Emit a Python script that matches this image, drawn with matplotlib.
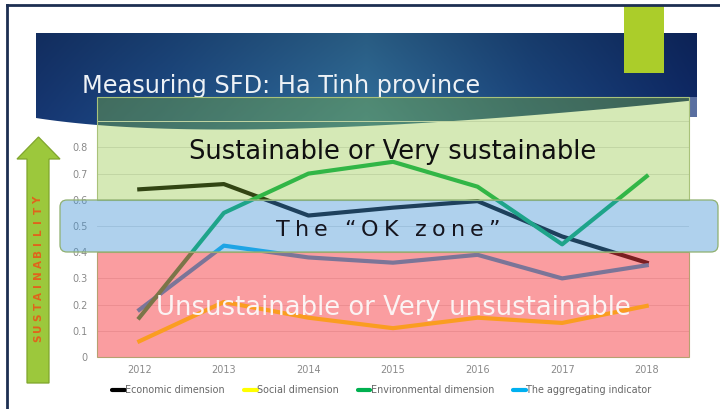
import numpy as np
import matplotlib

matplotlib.use("Agg")
import matplotlib.pyplot as plt
from matplotlib.patches import Polygon, Rectangle, FancyBboxPatch, PathPatch
from matplotlib.path import Path

# series shown on the slide
years = ["2012", "2013", "2014", "2015", "2016", "2017", "2018"]
economic = [0.64, 0.66, 0.54, 0.57, 0.595, 0.46, 0.36]
social = [0.06, 0.21, 0.15, 0.11, 0.15, 0.13, 0.195]
environmental = [0.15, 0.55, 0.70, 0.745, 0.65, 0.43, 0.69]
aggregating = [0.18, 0.425, 0.38, 0.36, 0.39, 0.30, 0.35]
series_names = ["Economic dimension", "Social dimension",
                "Environmental dimension", "The aggregating indicator"]
y_ticks = [0, 0.1, 0.2, 0.3, 0.4, 0.5, 0.6, 0.7, 0.8]

W, H = 720, 409
fig = plt.figure(figsize=(W / 100, H / 100), dpi=100)
fig.patch.set_facecolor("white")
renderer = fig.canvas.get_renderer()


def px_axes(z):
    a = fig.add_axes([0, 0, 1, 1], zorder=z)
    a.set_xlim(0, W)
    a.set_ylim(H, 0)
    a.axis("off")
    a.patch.set_alpha(0)
    return a


def fit_text(a, x, y, s, width, **kw):
    t = a.text(x, y, s, fontsize=20, **kw)
    w = t.get_window_extent(renderer).width
    t.set_fontsize(20 * width / w)
    return t


def tracked_text(a, x0, y, s, width, size, **kw):
    # letter-spaced string, one glyph at a time
    widths = []
    for ch in s:
        if ch == " ":
            widths.append(size * 1.389 * 0.3)
            continue
        t = a.text(0, 0, ch, fontsize=size, **kw)
        widths.append(t.get_window_extent(renderer).width)
        t.remove()
    gap = (width - sum(widths)) / (len(s) - 1)
    x = x0
    for ch, w in zip(s, widths):
        if ch != " ":
            a.text(x, y, ch, fontsize=size, ha="left", **kw)
        x += w + gap


# ---- background: title banner ----
bg = px_axes(0)
bx0, bx1, by0 = 36, 697, 33
t = np.linspace(0, 1, 80)
cx, cy = 230, 148
curve_x = (1 - t) ** 2 * bx0 + 2 * (1 - t) * t * cx + t ** 2 * bx1
curve_y = (1 - t) ** 2 * 118 + 2 * (1 - t) * t * cy + t ** 2 * 100
verts = [(bx0, by0), (bx1, by0)] + list(zip(curve_x[::-1], curve_y[::-1])) + [(bx0, by0)]
banner = PathPatch(Path(verts), facecolor="none", edgecolor="none")
bg.add_patch(banner)

gx = np.linspace(0, 1, 400)
stops = np.array([0, 0.2, 0.5, 0.75, 1.0])
cols = np.array([[22, 55, 115], [30, 76, 135], [50, 112, 158], [28, 72, 130], [15, 42, 105]]) / 255
row = np.stack([np.interp(gx, stops, cols[:, k]) for k in range(3)], axis=-1)
gy = np.linspace(0.82, 1.05, 120)[:, None, None]
grad = np.clip(row[None, :, :] * gy, 0, 1)
im = bg.imshow(grad, extent=(bx0, bx1, 150, by0), aspect="auto", zorder=1)
im.set_clip_path(banner)
bg.add_patch(Rectangle((689, 97), 8, 20, facecolor="#5a6fa0", edgecolor="none", zorder=1))

fit_text(bg, 82, 93, "Measuring SFD: Ha Tinh province", 398, color="#eef2f6", zorder=3,
         va="baseline", ha="left")

# ---- the chart ----
ax = fig.add_axes([97 / W, 52 / H, 592 / W, 0.99 * 262 / H], zorder=1)
ax.patch.set_alpha(0)
x = np.arange(len(years))
lw = 3.0
ax.plot(x, economic, color="#000000", lw=lw, label=series_names[0], zorder=3)
ax.plot(x, social, color="#ffff00", lw=lw, label=series_names[1], zorder=3)
ax.plot(x, aggregating, color="#00b0f0", lw=lw, label=series_names[3], zorder=3)
ax.plot(x, environmental, color="#00b050", lw=lw, label=series_names[2], zorder=4)
ax.set_xlim(-0.5, len(years) - 0.5)
ax.set_ylim(0, 0.99)
ax.set_xticks(x, years)
ax.set_yticks(y_ticks, ["0" if v == 0 else f"{v:.1f}" for v in y_ticks])
ax.tick_params(length=0, labelsize=7, labelcolor="#8a8a8a")
ax.tick_params(axis="y", pad=7)
ax.tick_params(axis="x", pad=6)
for s in ax.spines.values():
    s.set_visible(False)
for v in np.arange(0.0, 0.95, 0.1):
    ax.axhline(v, color="#e2e2e2", lw=0.7, zorder=1)

handles, labels = ax.get_legend_handles_labels()
order = [0, 1, 3, 2]
leg = ax.legend([handles[i] for i in order], [labels[i] for i in order], ncol=4,
                loc="center", bbox_to_anchor=(382 / W, 1 - 390 / H),
                bbox_transform=fig.transFigure, frameon=False, fontsize=6.9,
                labelcolor="#666666", handlelength=1.3, handletextpad=0.05,
                columnspacing=2.0)
for h in leg.get_lines():
    h.set_solid_capstyle("round")

# ---- overlays: sustainability zones ----
top = px_axes(2)
top.add_patch(Rectangle((97, 97), 592, 103, facecolor=(139 / 255, 194 / 255, 55 / 255),
                        alpha=0.36, edgecolor="none"))
top.add_patch(Rectangle((97, 97), 592, 103, facecolor="none", edgecolor="#a9c27a", lw=0.8))
top.add_patch(Rectangle((97, 252), 592, 105, facecolor=(246 / 255, 60 / 255, 66 / 255),
                        alpha=0.5, edgecolor="none"))
top.add_patch(Rectangle((97, 252), 592, 105, facecolor="none", edgecolor="#b7a070", lw=0.8))
top.add_patch(FancyBboxPatch((60, 200), 658, 52, boxstyle="round,pad=0,rounding_size=7",
                             facecolor=(70 / 255, 150 / 255, 215 / 255), alpha=0.43,
                             edgecolor="none"))
top.add_patch(FancyBboxPatch((60, 200), 658, 52, boxstyle="round,pad=0,rounding_size=7",
                             facecolor="none", edgecolor="#8fb070", lw=0.9))

fit_text(top, 393, 159, "Sustainable or Very sustainable", 406, color="#101010",
         ha="center", va="baseline")
fit_text(top, 393, 315, "Unsustainable or Very unsustainable", 473, color="#fbf3f3",
         ha="center", va="baseline")
tracked_text(top, 276, 236, "The \u201cOK zone\u201d", 224, 16, color="#15151f", va="baseline")

# sustainability arrow
arrow = Polygon([(27, 383), (27, 159), (17, 159), (38.5, 137), (60, 159), (49, 159), (49, 383)],
                closed=True, facecolor="#9cc83c", edgecolor="#7fa52c", lw=0.9)
top.add_patch(arrow)
word = "SUSTAINABILITY"
for i, ch in enumerate(word):
    top.text(38.5, 338 - i * 10.6, ch, rotation=90, fontsize=7.5, color="#e0641c",
             fontweight="semibold", ha="center", va="center")

# corner accent and slide frame
top.add_patch(Rectangle((624, 6), 40, 67, facecolor="#abcd2a", edgecolor="none"))
top.plot([7, 7], [5, H], color="#1d2f52", lw=2)
top.plot([7, W], [5, 5], color="#1d2f52", lw=2)

fig.savefig("out.png", dpi=100)
